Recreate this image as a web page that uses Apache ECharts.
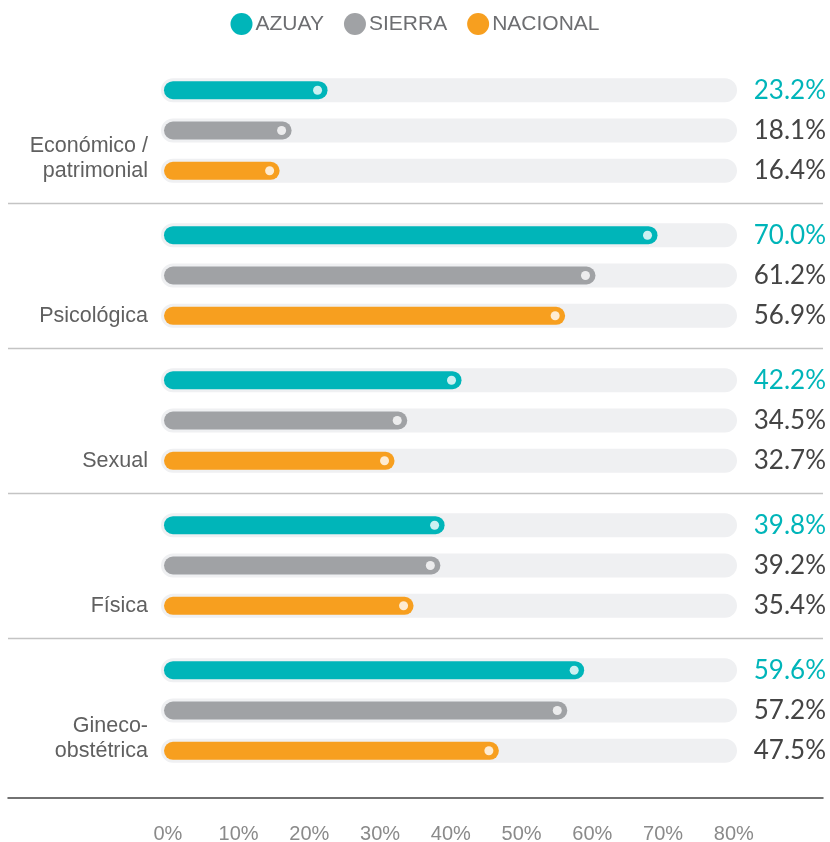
<!DOCTYPE html>
<html>
<head>
<meta charset="utf-8">
<script src="https://cdn.jsdelivr.net/npm/echarts@6/dist/echarts.min.js"></script>
<style>
  html, body { margin: 0; padding: 0; background: #fff; }
  #chart { width: 830px; height: 842px; }
</style>
</head>
<body>
<div id="chart"></div>
<script>
const categories = ['Económico /\npatrimonial', 'Psicológica', 'Sexual', 'Física', 'Gineco-\nobstétrica']
const azuay = [23.2, 70.0, 42.2, 39.8, 59.6]
const sierra = [18.1, 61.2, 34.5, 39.2, 57.2]
const nacional = [16.4, 56.9, 32.7, 35.4, 47.5]
const tickValues = [0, 10, 20, 30, 40, 50, 60, 70, 80]

const TRACK = '#eff0f2'
const ROW_STEP = 40.3

const chart = echarts.init(document.getElementById('chart'))

function barSeries(name, data, color, labelColor) {
  return {
    name,
    type: 'bar',
    data,
    barWidth: 18,
    barGap: '124%',
    showBackground: true,
    // thick stroke in the track colour makes the grey track wider than the bar
    backgroundStyle: {
      color: TRACK,
      borderColor: TRACK,
      borderWidth: 6,
      borderRadius: 9
    },
    itemStyle: {
      color,
      borderRadius: 9
    },
    label: {
      show: true,
      // bar rect starts at the zero line, so this puts every label on the right edge
      position: [662, '50%'],
      align: 'right',
      verticalAlign: 'middle',
      color: labelColor,
      fontFamily: 'Lato',
      fontSize: 26,
      formatter: (p) => p.value.toFixed(1) + '%'
    },
    animation: false
  }
}

// white dot near the end of each bar
function dotSeries(data, row) {
  return {
    type: 'scatter',
    data: data.map((v, i) => [v, i]),
    symbol: 'circle',
    symbolSize: 9,
    symbolOffset: [-10, row * ROW_STEP],
    itemStyle: { color: '#fff' },
    silent: true,
    z: 5,
    animation: false
  }
}

chart.setOption({
  backgroundColor: '#fff',
  legend: {
    top: 8,
    left: 'center',
    data: ['AZUAY', 'SIERRA', 'NACIONAL'],
    icon: 'circle',
    itemWidth: 22,
    itemHeight: 22,
    itemGap: 20,
    selectedMode: false,
    itemStyle: { borderWidth: 0 },
    textStyle: { color: '#6d6e71', fontSize: 21, fontFamily: 'Liberation Sans', padding: [0, 0, 0, -2] }
  },
  grid: [
    { left: 164, right: 96, top: 58, height: 725 },
    { left: 8, right: 7, top: 797, height: 1 }
  ],
  xAxis: [
    {
      gridIndex: 0,
      type: 'value',
      min: 0,
      max: 80.85,
      show: false
    },
    {
      gridIndex: 1,
      type: 'value',
      position: 'bottom',
      min: -22.6,
      max: 92.6,
      axisLine: { show: true, onZero: false, lineStyle: { color: '#444', width: 1.5 } },
      axisTick: { show: false },
      splitLine: { show: false },
      axisLabel: {
        customValues: tickValues,
        formatter: '{value}%',
        margin: 27,
        color: '#8a8a8a',
        fontSize: 20,
        fontFamily: 'Liberation Sans'
      }
    }
  ],
  yAxis: [
    {
      gridIndex: 0,
      type: 'category',
      data: categories,
      inverse: true,
      axisLine: { show: false },
      axisTick: { show: false },
      splitLine: { show: false },
      axisLabel: {
        margin: 16,
        verticalAlign: 'top',
        padding: [3, 0, 0, 0],
        lineHeight: 25,
        align: 'right',
        color: '#606060',
        fontSize: 21.5,
        fontFamily: 'Liberation Sans',
        formatter: (v) => (v.includes('\n') ? v : '\n' + v)
      }
    },
    { gridIndex: 1, type: 'value', show: false }
  ],
  series: [
    barSeries('AZUAY', azuay, '#00b5b9', '#00b5b9'),
    barSeries('SIERRA', sierra, '#a0a2a5', '#444444'),
    barSeries('NACIONAL', nacional, '#f79f1f', '#444444'),
    dotSeries(azuay, -1),
    dotSeries(sierra, 0),
    dotSeries(nacional, 1)
  ]
})

// separators between the groups, placed halfway between category centres
const seps = []
for (let i = 0; i < categories.length - 1; i++) {
  const y0 = chart.convertToPixel({ yAxisIndex: 0 }, i)
  const y1 = chart.convertToPixel({ yAxisIndex: 0 }, i + 1)
  const y = Math.round((y0 + y1) / 2) + 0.5
  seps.push({
    type: 'line',
    shape: { x1: 8, y1: y, x2: 823, y2: y },
    style: { stroke: '#c4c4c4', lineWidth: 1.5 },
    silent: true
  })
}
chart.setOption({ graphic: seps })
</script>
</body>
</html>
